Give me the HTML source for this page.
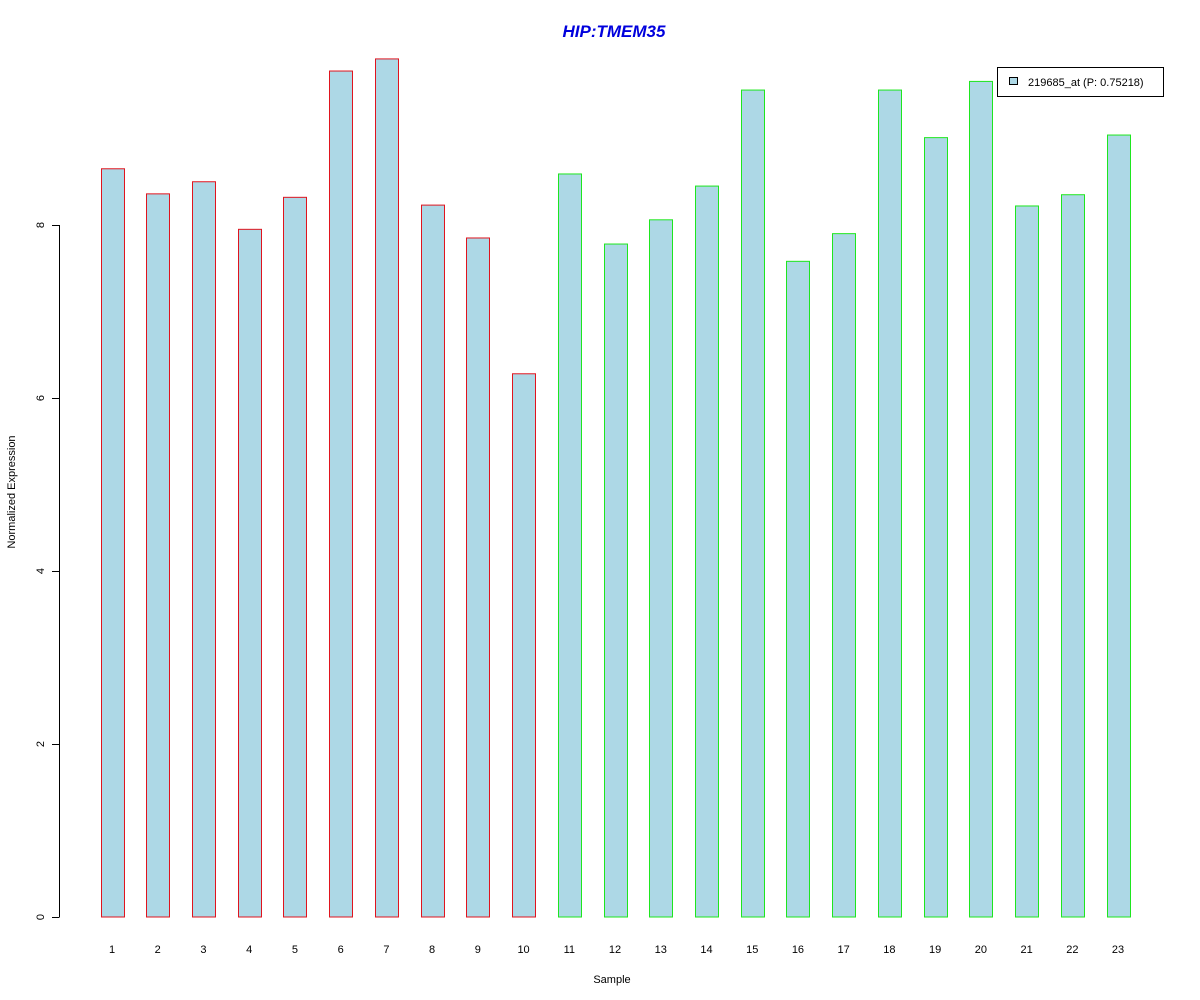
<!DOCTYPE html>
<html><head><meta charset="utf-8"><style>body{margin:0;background:#fff}svg{display:block;font-family:"Liberation Sans",Arial,sans-serif}</style></head>
<body>
<svg id="chart" width="1200" height="1000">
<text x="614" y="37" text-anchor="middle" font-size="17" font-weight="bold" font-style="italic" fill="#0000dd">HIP:TMEM35</text>
<text x="612" y="983" text-anchor="middle" font-size="11">Sample</text>
<text transform="translate(15,492) rotate(-90)" text-anchor="middle" font-size="11">Normalized Expression</text>
<g id="yaxis"></g>
<g id="bars"></g>
<g>
<rect x="997.5" y="67.5" width="166" height="29" fill="#fff" stroke="#000"/>
<rect x="1009.5" y="77.5" width="8" height="7" fill="#add8e6" stroke="#000"/>
<text x="1028" y="86" font-size="11">219685_at (P: 0.75218)</text>
</g>
</svg>
<script>
const categories = ["1","2","3","4","5","6","7","8","9","10","11","12","13","14","15","16","17","18","19","20","21","22","23"];
const values = [8.65,8.36,8.50,7.95,8.32,9.78,9.92,8.23,7.85,6.28,8.59,7.78,8.06,8.45,9.56,7.58,7.90,9.56,9.01,9.66,8.22,8.35,9.04];
const groups = ["a","a","a","a","a","a","a","a","a","a","b","b","b","b","b","b","b","b","b","b","b","b","b"];
const yTicks = [0,2,4,6,8];
const NS="http://www.w3.org/2000/svg";
const y = v => 917 - v*86.5;
const xc = i => 112 + i*45.73;
const bw = 23;
const bars=document.getElementById('bars'), ya=document.getElementById('yaxis');
function mk(t,a,p){const e=document.createElementNS(NS,t);for(const k in a)e.setAttribute(k,a[k]);p.appendChild(e);return e;}
const ax=mk('line',{x1:59.5,x2:59.5,y1:y(yTicks[0]),y2:y(yTicks[yTicks.length-1]),stroke:'#000'},ya);


yTicks.forEach(v=>{
  const tk=mk('line',{x1:52,x2:59.5,y1:Math.round(y(v))+0.5,y2:Math.round(y(v))+0.5,stroke:'#000'},ya);
  
  
  const t=mk('text',{transform:`translate(44,${y(v)}) rotate(-90)`,'text-anchor':'middle','font-size':11},ya);
  t.textContent=v;
  
  
});
categories.forEach((c,i)=>{
  const r=mk('rect',{x:Math.round(xc(i)-bw/2)+0.5,y:y(values[i]),width:bw,height:917-y(values[i]),fill:'#add8e6',stroke:groups[i]==='a'?'#e0141e':'#1ee61e'},bars);
  
  
  const t=mk('text',{x:xc(i),y:953,'text-anchor':'middle','font-size':11},bars);
  t.textContent=c;
  
  
});
</script>
</body></html>
